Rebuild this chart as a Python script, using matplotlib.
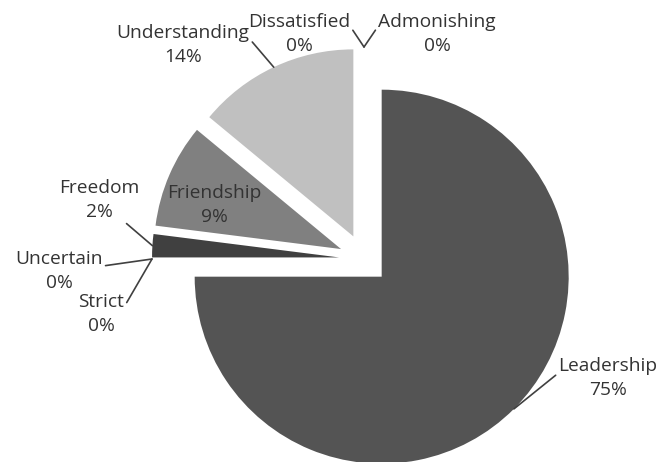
import numpy as np
import matplotlib
matplotlib.use("Agg")
import matplotlib.pyplot as plt

# ---- data ----
categories = ["Leadership", "Strict", "Uncertain", "Freedom", "Friendship",
              "Understanding", "Dissatisfied", "Admonishing"]
values = [75, 0, 0, 2, 9, 14, 0, 0]

# ---- styles / layout ----
colors = ["#545454", "#545454", "#545454", "#404040", "#808080",
          "#c0c0c0", "#c0c0c0", "#c0c0c0"]
W, H = 660, 462
CX, CY_TOP = 364, 259
R = 187
EXPLODE_PX = 25
TEXT_COLOR = "#333333"
LINE_COLOR = "#404040"
FS = 13.8
LS = 1.4

# text centre (pixels from top-left), relpos for the leader line (None = no line)
label_layout = {
    "Leadership":    ((608, 378), (0.0, 0.62)),
    "Understanding": ((183, 45),  (1.0, 0.65)),
    "Dissatisfied":  ((299, 34),  (1.0, 0.69)),
    "Admonishing":   ((437, 34),  (0.0, 0.69)),
    "Freedom":       ((99, 200),  (0.73, 0.12)),
    "Uncertain":     ((59, 271),  (1.0, 0.62)),
    "Strict":        ((101, 314), (1.0, 0.66)),
    "Friendship":    ((214, 205), None),
}

plt.rcParams["font.family"] = ["Open Sans", "DejaVu Sans"]

fig = plt.figure(figsize=(W / 100, H / 100), dpi=100)
ax = fig.add_axes([0, 0, 1, 1])

center = (CX, H - CY_TOP)
wedges, _ = ax.pie(values, colors=colors, startangle=90, counterclock=False,
                   explode=[EXPLODE_PX] * len(values), radius=R, center=center,
                   wedgeprops=dict(linewidth=0), normalize=True)
ax.set_xlim(0, W)
ax.set_ylim(0, H)
ax.axis("off")

total = sum(values)
for w, cat, v in zip(wedges, categories, values):
    (tx, ty_top), relpos = label_layout[cat]
    txt = f"{cat}\n{round(100 * v / total)}%"
    mid = np.deg2rad((w.theta1 + w.theta2) / 2)
    wcx, wcy = w.center
    anchor = (wcx + w.r * np.cos(mid), wcy + w.r * np.sin(mid))
    if relpos is None:
        ax.text(tx, H - ty_top, txt, ha="center", va="center",
                fontsize=FS, color=TEXT_COLOR, linespacing=LS)
    else:
        ax.annotate(txt, xy=anchor, xytext=(tx, H - ty_top),
                    ha="center", va="center", fontsize=FS, color=TEXT_COLOR,
                    linespacing=LS,
                    arrowprops=dict(arrowstyle="-", color=LINE_COLOR, lw=1.2,
                                    shrinkA=0, shrinkB=0, relpos=relpos))

fig.savefig("out.png", dpi=100)
